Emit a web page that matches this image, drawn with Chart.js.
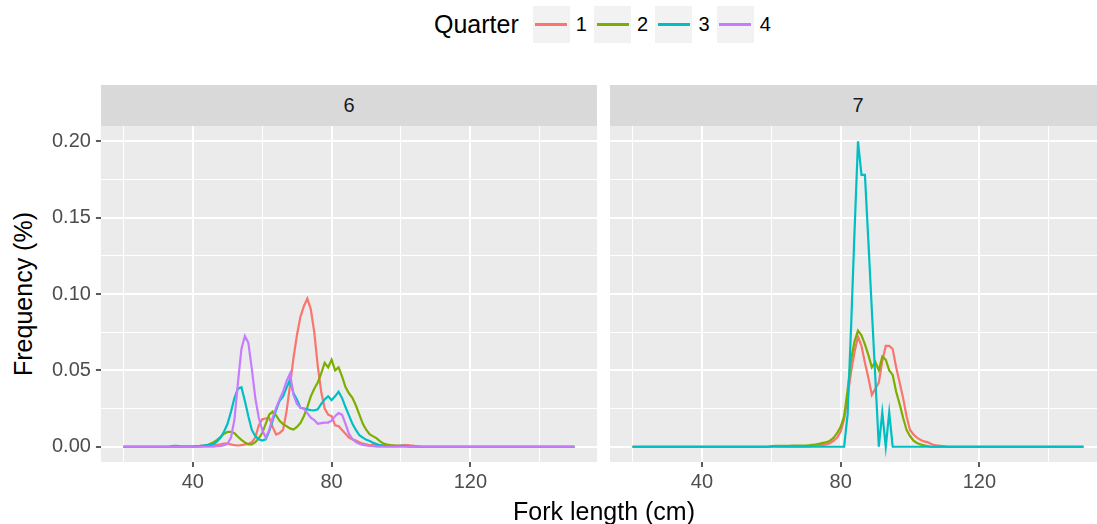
<!DOCTYPE html>
<html>
<head>
<meta charset="utf-8">
<script src="https://cdn.jsdelivr.net/npm/chart.js@4"></script>
<style>
  html, body { margin:0; padding:0; }
  body { width:1097px; height:524px; overflow:hidden; background:#FFFFFF; position:relative;
         font-family:'Liberation Sans', Arial, Helvetica, sans-serif; }
  .wrap { position:absolute; }
  .strip { position:absolute; background:#D9D9D9; color:#1A1A1A; font-size:20px;
           display:flex; align-items:center; justify-content:center; }
  #legend { position:absolute; left:434px; top:6px; height:37px; display:flex; align-items:center; }
  #legend .title { font-size:25px; color:#000; margin-right:14px; white-space:nowrap; }
  #legend .key { width:37px; height:37px; background:#F2F2F2; position:relative; }
  #legend .key span { position:absolute; left:2.5px; top:17.4px; width:32px; height:2.2px; }
  #legend .lab { font-size:20px; color:#000; margin-left:6px; margin-right:7.2px; }
  .axtitle { position:absolute; font-size:25px; color:#000; white-space:nowrap; }
</style>
</head>
<body>
<div id="legend"></div>
<div id="strips"></div>
<div class="wrap" id="wrapA"><canvas id="cA"></canvas></div>
<div class="wrap" id="wrapB"><canvas id="cB"></canvas></div>
<div class="axtitle" id="ytitle" style="left:23px; top:294px; transform:translate(-50%,-50%) rotate(-90deg);"></div>
<div class="axtitle" id="xtitle" style="left:604px; top:511px; transform:translate(-50%,-50%);"></div>
<script>
// ---------------- data ----------------
const forkLength = [
  20,21,22,23,24,25,26,27,28,29,30,31,32,33,34,35,36,37,38,39,
  40,41,42,43,44,45,46,47,48,49,50,51,52,53,54,55,56,57,58,59,
  60,61,62,63,64,65,66,67,68,69,70,71,72,73,74,75,76,77,78,79,
  80,81,82,83,84,85,86,87,88,89,90,91,92,93,94,95,96,97,98,99,
  100,101,102,103,104,105,106,107,108,109,110,111,112,113,114,115,116,117,118,119,
  120,121,122,123,124,125,126,127,128,129,130,131,132,133,134,135,136,137,138,139,
  140,141,142,143,144,145,146,147,148,149,150
];
const quarters = ['1', '2', '3', '4'];
const panels = ['6', '7'];
const legendTitle = 'Quarter';
const xTitle = 'Fork length (cm)';
const yTitle = 'Frequency (%)';
const xTicks = [20, 40, 60, 80, 100, 120, 140];
const xTickLabels = [40, 80, 120];
const yTicks = [0, 0.025, 0.05, 0.075, 0.1, 0.125, 0.15, 0.175, 0.2];
const yTickLabels = [0, 0.05, 0.1, 0.15, 0.2];

// panel 6, quarter 1..4 (index = fork length - 20)
const p6q1 = [
  0,0,0,0,0,0,0,0,0,0,
  0,0,0,0,0,0,0,0,0,0,
  0,0.0003,0.0005,0.0008,0.001,0.001,0.0012,0.0012,0.0015,0.002,
  0.0022,0.0015,0.001,0.0008,0.001,0.0015,0.002,0.003,0.006,0.014,
  0.018,0.0185,0.019,0.013,0.008,0.009,0.011,0.023,0.04,0.058,
  0.073,0.085,0.092,0.097,0.09,0.075,0.053,0.036,0.025,0.021,
  0.02,0.014,0.0135,0.011,0.0085,0.006,0.0048,0.004,0.003,0.002,
  0.0015,0.001,0.001,0.0009,0.0009,0.0008,0.0008,0.0008,0.0007,0.0007,
  0.0008,0.001,0.001,0.0008,0.0005,0.0003,0,0,0,0,
  0,0,0,0,0,0,0,0,0,0,
  0,0,0,0,0,0,0,0,0,0,
  0,0,0,0,0,0,0,0,0,0,
  0,0,0,0,0,0,0,0,0,0,
  0
];
const p6q2 = [
  0,0,0,0,0,0,0,0,0,0,
  0,0,0,0,0,0,0,0,0,0,
  0,0,0,0.0005,0.001,0.002,0.003,0.0045,0.0065,0.0085,
  0.0097,0.0098,0.0088,0.0065,0.0045,0.0028,0.0015,0.0015,0.003,0.0055,
  0.009,0.015,0.021,0.023,0.0205,0.017,0.0148,0.0135,0.012,0.0112,
  0.013,0.0155,0.02,0.026,0.033,0.038,0.042,0.048,0.055,0.052,
  0.057,0.05,0.052,0.046,0.039,0.035,0.032,0.027,0.021,0.015,
  0.011,0.008,0.0068,0.0055,0.0035,0.002,0.0014,0.001,0.0008,0.0006,
  0.0005,0.0004,0.0003,0,0,0,0,0,0,0,
  0,0,0,0,0,0,0,0,0,0,
  0,0,0,0,0,0,0,0,0,0,
  0,0,0,0,0,0,0,0,0,0,
  0,0,0,0,0,0,0,0,0,0,
  0
];
const p6q3 = [
  0,0,0,0,0,0,0,0,0,0,
  0,0,0,0,0.0004,0.0006,0.0004,0.0002,0.0002,0.0003,
  0.0003,0.0004,0.0005,0.0007,0.001,0.0012,0.002,0.0035,0.006,0.01,
  0.015,0.023,0.032,0.038,0.039,0.03,0.02,0.011,0.007,0.0048,
  0.004,0.0048,0.01,0.017,0.024,0.03,0.033,0.0386,0.044,0.035,
  0.031,0.0255,0.025,0.0245,0.024,0.0238,0.0245,0.028,0.031,0.033,
  0.0305,0.033,0.036,0.032,0.026,0.0205,0.015,0.011,0.0075,0.006,
  0.0045,0.0038,0.0025,0.0017,0.001,0.0006,0.0004,0.0003,0.0003,0.0004,
  0.0005,0.0005,0.0003,0,0,0,0,0,0,0,
  0,0,0,0,0,0,0,0,0,0,
  0,0,0,0,0,0,0,0,0,0,
  0,0,0,0,0,0,0,0,0,0,
  0,0,0,0,0,0,0,0,0,0,
  0
];
const p6q4 = [
  0,0,0,0,0,0,0,0,0,0,
  0,0,0,0,0,0,0,0,0,0,
  0,0,0,0,0,0,0,0.0003,0.0006,0.001,
  0.002,0.006,0.018,0.042,0.064,0.0725,0.068,0.051,0.032,0.019,
  0.011,0.006,0.011,0.019,0.0255,0.031,0.036,0.043,0.048,0.034,
  0.028,0.0255,0.025,0.022,0.019,0.0175,0.015,0.0155,0.0158,0.0158,
  0.017,0.02,0.022,0.021,0.015,0.0085,0.005,0.003,0.002,0.0012,
  0.0008,0.0005,0.0003,0,0,0,0,0,0,0,
  0,0,0,0,0,0,0,0,0,0,
  0,0,0,0,0,0,0,0,0,0,
  0,0,0,0,0,0,0,0,0,0,
  0,0,0,0,0,0,0,0,0,0,
  0,0,0,0,0,0,0,0,0,0,
  0
];
// panel 7, quarter 1..3
const p7q1 = [
  0,0,0,0,0,0,0,0,0,0,
  0,0,0,0,0,0,0,0,0,0,
  0,0,0,0,0,0,0,0,0,0,
  0,0,0,0,0,0,0,0,0,0,
  0.0004,0.0004,0.0002,0.0002,0.0002,0.0002,0.0002,0.0002,0.0002,0.0002,
  0.0002,0.0003,0.0005,0.0007,0.001,0.0012,0.0015,0.0025,0.004,0.006,
  0.01,0.018,0.033,0.049,0.062,0.072,0.066,0.055,0.045,0.034,
  0.038,0.042,0.056,0.066,0.066,0.064,0.052,0.042,0.032,0.02,
  0.011,0.008,0.006,0.0045,0.0035,0.003,0.002,0.001,0.0008,0.0005,
  0.0003,0,0,0,0,0,0,0,0,0,
  0,0,0,0,0,0,0,0,0,0,
  0,0,0,0,0,0,0,0,0,0,
  0,0,0,0,0,0,0,0,0,0,
  0
];
const p7q2 = [
  0,0,0,0,0,0,0,0,0,0,
  0,0,0,0,0,0,0,0,0,0,
  0,0,0,0,0,0,0,0,0,0,
  0,0,0,0,0,0,0,0,0,0,
  0.0003,0.0005,0.0005,0.0005,0.0005,0.0005,0.0008,0.0008,0.0008,0.0008,
  0.0008,0.001,0.0013,0.0016,0.002,0.0025,0.003,0.004,0.006,0.009,
  0.013,0.02,0.037,0.057,0.069,0.076,0.073,0.067,0.06,0.052,
  0.0555,0.05,0.059,0.057,0.05,0.047,0.036,0.028,0.019,0.011,
  0.007,0.004,0.0025,0.0015,0.001,0.0005,0,0,0,0,
  0,0,0,0,0,0,0,0,0,0,
  0,0,0,0,0,0,0,0,0,0,
  0,0,0,0,0,0,0,0,0,0,
  0,0,0,0,0,0,0,0,0,0,
  0
];
const p7q3 = [
  0,0,0,0,0,0,0,0,0,0,
  0,0,0,0,0,0,0,0,0,0,
  0,0,0,0,0,0,0,0,0,0,
  0,0,0,0,0,0,0,0,0,0,
  0,0,0,0,0,0,0,0,0,0,
  0,0,0,0,0,0,0,0,0,0,
  0,0,0.021,0.078,0.141,0.2,0.178,0.178,0.134,0.089,
  0.045,0,0.0225,0,0.0225,0,0,0,0,0,
  0,0,0,0,0,0,0,0,0,0,
  0,0,0,0,0,0,0,0,0,0,
  0,0,0,0,0,0,0,0,0,0,
  0,0,0,0,0,0,0,0,0,0,
  0,0,0,0,0,0,0,0,0,0,
  0
];

// ---------------- style ----------------
const COLORS = ['#F8766D', '#7CAE00', '#00BFC4', '#C77CFF'];
const FONT = "'Liberation Sans', Arial, Helvetica, sans-serif";
const LINE_W = 2.2;
Chart.defaults.font.family = FONT;

// ---------------- html text ----------------
document.getElementById('ytitle').textContent = yTitle;
document.getElementById('xtitle').textContent = xTitle;
const legend = document.getElementById('legend');
const lt = document.createElement('div'); lt.className = 'title'; lt.textContent = legendTitle; legend.appendChild(lt);
quarters.forEach((q, i) => {
  const k = document.createElement('div'); k.className = 'key';
  const s = document.createElement('span'); s.style.background = COLORS[i]; k.appendChild(s);
  legend.appendChild(k);
  const l = document.createElement('div'); l.className = 'lab'; l.textContent = q; legend.appendChild(l);
});
const PANEL_AREAS = [
  {left: 101, top: 126, w: 496, h: 336},
  {left: 610, top: 126, w: 496, h: 336}
];
const stripsEl = document.getElementById('strips');
panels.forEach((p, i) => {
  const d = document.createElement('div'); d.className = 'strip';
  d.style.left = PANEL_AREAS[i].left + 'px'; d.style.top = '85px';
  d.style.width = PANEL_AREAS[i].w + 'px'; d.style.height = '41px';
  d.textContent = p; stripsEl.appendChild(d);
});

// ---------------- charts ----------------
const panelBg = {
  id: 'panelBg',
  beforeDraw(chart) {
    const {ctx, chartArea: a} = chart;
    ctx.save(); ctx.fillStyle = '#EBEBEB';
    ctx.fillRect(a.left, a.top, a.right - a.left, a.bottom - a.top);
    ctx.restore();
  }
};
const near = (v, arr) => arr.some(t => Math.abs(t - v) < 1e-9);

function makeConfig(series, showY) {
  const datasets = series.map((vals, qi) => ({
    label: quarters[qi],
    data: forkLength.map((x, i) => ({x: x, y: vals[i]})),
    borderColor: COLORS[qi],
    borderWidth: LINE_W,
    pointRadius: 0,
    fill: false,
    tension: 0,
    order: 10 - qi
  }));
  return {
    type: 'line',
    data: {datasets},
    options: {
      responsive: false, animation: false, devicePixelRatio: 1, events: [],
      layout: {padding: 0},
      plugins: {legend: {display: false}, tooltip: {enabled: false}},
      scales: {
        x: {
          type: 'linear', min: 13.5, max: 156.5,
          afterBuildTicks: s => { s.ticks = xTicks.map(v => ({value: v})); },
          ticks: {
            callback: v => near(v, xTickLabels) ? String(v) : '',
            color: '#4D4D4D', font: {size: 20}, padding: 3, autoSkip: false, maxRotation: 0
          },
          grid: {
            color: '#FFFFFF',
            lineWidth: c => (c.tick && near(c.tick.value, xTickLabels)) ? 2 : 1,
            tickLength: 5,
            tickColor: c => (c.tick && near(c.tick.value, xTickLabels)) ? '#333333' : 'rgba(0,0,0,0)',
            tickWidth: 1.6
          },
          border: {display: false}
        },
        y: {
          type: 'linear', min: -0.01, max: 0.21,
          afterBuildTicks: s => { s.ticks = yTicks.map(v => ({value: v})); },
          ticks: {
            display: showY,
            callback: v => near(v, yTickLabels) ? v.toFixed(2) : '',
            color: '#4D4D4D', font: {size: 20}, padding: 5
          },
          grid: {
            color: '#FFFFFF',
            lineWidth: c => (c.tick && near(c.tick.value, yTickLabels)) ? 2 : 1,
            drawTicks: showY,
            tickLength: 5,
            tickColor: c => (c.tick && near(c.tick.value, yTickLabels)) ? '#333333' : 'rgba(0,0,0,0)',
            tickWidth: 1.6
          },
          border: {display: false}
        }
      }
    },
    plugins: [panelBg]
  };
}

function build(canvasId, wrapId, series, showY, area) {
  const canvas = document.getElementById(canvasId);
  canvas.width = 700; canvas.height = 500;
  canvas.style.width = '700px'; canvas.style.height = '500px';
  let chart = new Chart(canvas, makeConfig(series, showY));
  const a = chart.chartArea;
  const W = Math.round(chart.width + area.w - (a.right - a.left));
  const H = Math.round(chart.height + area.h - (a.bottom - a.top));
  chart.destroy();
  canvas.width = W; canvas.height = H;
  canvas.style.width = W + 'px'; canvas.style.height = H + 'px';
  chart = new Chart(canvas, makeConfig(series, showY));
  const b = chart.chartArea;
  const wrap = document.getElementById(wrapId);
  wrap.style.left = Math.round(area.left - b.left) + 'px';
  wrap.style.top = Math.round(area.top - b.top) + 'px';
  return chart;
}

build('cA', 'wrapA', [p6q1, p6q2, p6q3, p6q4], true, PANEL_AREAS[0]);
build('cB', 'wrapB', [p7q1, p7q2, p7q3], false, PANEL_AREAS[1]);
</script>
</body>
</html>
